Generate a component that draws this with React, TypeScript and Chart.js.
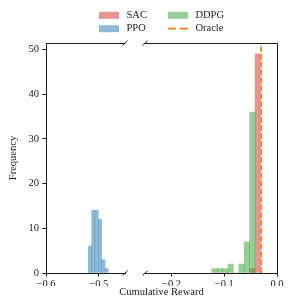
import React, { useEffect, useRef } from 'react';
import { Chart, registerables } from 'chart.js';

Chart.register(...registerables);

// ---------------- data ----------------
const SAC_BIN_CENTERS = [-0.0468, -0.0365];
const SAC_COUNTS = [1, 49];
const PPO_BIN_CENTERS = [-0.5166, -0.5103, -0.504, -0.4976, -0.4913, -0.485];
const PPO_COUNTS = [6, 14, 14, 12, 3, 1];
const DDPG_BIN_CENTERS = [-0.1186, -0.1083, -0.0981, -0.0878, -0.0776, -0.0673, -0.0571, -0.0468];
const DDPG_COUNTS = [1, 1, 1, 2, 0, 2, 7, 36];
const ORACLE_REWARD = -0.03;

const LEFT_X_RANGE = [-0.6, -0.45];
const RIGHT_X_RANGE = [-0.25, 0.0];
const LEFT_X_TICKS = [-0.6, -0.5];
const RIGHT_X_TICKS = [-0.2, -0.1, 0.0];
const Y_RANGE = [0, 51.45];
const Y_TICKS = [0, 10, 20, 30, 40, 50];

const LEGEND_COLUMNS = [['SAC', 'PPO'], ['DDPG', 'Oracle']];
const X_TITLE = 'Cumulative Reward';
const Y_TITLE = 'Frequency';

// ---------------- styles ----------------
const FONT = "'Liberation Serif', 'Times New Roman', serif";
const INK = '#1a1a1a';
const COLORS: Record<string, string> = {
  SAC: 'rgba(214,39,40,0.5)',
  PPO: 'rgba(31,119,180,0.5)',
  DDPG: 'rgba(44,160,44,0.5)',
  Oracle: '#ff7f0e',
};
const GAP_PX = 20;

const fmtTick = (v: number) => {
  const n = Math.abs(v) < 1e-9 ? 0 : v;
  return n.toFixed(1).replace('-', '\u2212');
};

const pts = (xs: number[], ys: number[]) => xs.map((x, i) => ({ x, y: ys[i] }));

// Split the chart area between the two x scales (broken axis)
const brokenAxis = {
  id: 'brokenAxis',
  afterLayout(chart: any) {
    const a = chart.chartArea;
    const xL = chart.scales.xL;
    const xR = chart.scales.xR;
    const spanL = LEFT_X_RANGE[1] - LEFT_X_RANGE[0];
    const spanR = RIGHT_X_RANGE[1] - RIGHT_X_RANGE[0];
    const k = (a.right - a.left - GAP_PX) / (spanL + spanR);
    xL.left = a.left;
    xL.right = a.left + spanL * k;
    xL.width = xL.right - xL.left;
    xR.right = a.right;
    xR.left = a.right - spanR * k;
    xR.width = xR.right - xR.left;
    xR.top = xL.top;
    xR.bottom = xL.bottom;
    xR.height = xL.height;
    xL.configure();
    xR.configure();
  },
};

// Top / right spines and break marks
const frame = {
  id: 'frame',
  afterDraw(chart: any) {
    const { ctx, chartArea: a } = chart;
    const xL = chart.scales.xL;
    const xR = chart.scales.xR;
    const al = (v: number) => Math.floor(v) + 0.5;
    ctx.save();
    ctx.strokeStyle = INK;
    ctx.lineWidth = 1;
    ctx.beginPath();
    const top = al(a.top);
    ctx.moveTo(a.left, top);
    ctx.lineTo(xL.right, top);
    ctx.moveTo(xR.left, top);
    ctx.lineTo(a.right + 0.5, top);
    ctx.moveTo(al(a.right), a.top);
    ctx.lineTo(al(a.right), a.bottom + 1);
    ctx.stroke();
    ctx.beginPath();
    for (const x of [xL.right, xR.left]) {
      for (const y of [a.top, a.bottom]) {
        ctx.moveTo(x - 2.5, y + 2.2);
        ctx.lineTo(x + 2.5, y - 2.2);
      }
    }
    ctx.stroke();
    ctx.restore();
  },
};

// Two-column legend above the axes
const splitLegend = {
  id: 'splitLegend',
  afterDraw(chart: any) {
    const { ctx, chartArea: a } = chart;
    const ds = chart.data.datasets;
    const find = (label: string) => ds.find((d: any) => d.label === label);
    ctx.save();
    ctx.font = `10.5px ${FONT}`;
    const handle = 20;
    const pad = 7.5;
    const colGap = 21;
    const colW = LEGEND_COLUMNS.map(
      (col) => handle + pad + Math.max(...col.map((l) => ctx.measureText(l).width))
    );
    const total = colW.reduce((s, w) => s + w, 0) + colGap * (colW.length - 1);
    let x = (a.left + a.right) / 2 - total / 2;
    const rowY = [a.top - 27.7, a.top - 14.3];
    LEGEND_COLUMNS.forEach((col, ci) => {
      col.forEach((label, ri) => {
        const d = find(label);
        const y = rowY[ri];
        if (d.type === 'line') {
          ctx.strokeStyle = d.borderColor;
          ctx.lineWidth = 1.8;
          ctx.setLineDash([8.3, 3.4]);
          ctx.beginPath();
          ctx.moveTo(x, y);
          ctx.lineTo(x + handle, y);
          ctx.stroke();
          ctx.setLineDash([]);
        } else {
          ctx.fillStyle = d.backgroundColor;
          ctx.fillRect(x, y - 3.5, handle, 7);
        }
        ctx.fillStyle = INK;
        ctx.textBaseline = 'middle';
        ctx.textAlign = 'left';
        ctx.fillText(label, x + handle + pad, y);
      });
      x += colW[ci] + colGap;
    });
    ctx.restore();
  },
};

const tickFont = { size: 10.5, family: FONT };
const gridOpts = {
  offset: false,
  drawOnChartArea: false,
  drawTicks: true,
  tickLength: 3.5,
  tickColor: INK,
  tickWidth: 1,
};
const borderOpts = { display: true, color: INK, width: 1, z: 1 };

const barCommon = {
  type: 'bar' as const,
  grouped: false,
  barPercentage: 1,
  categoryPercentage: 1,
  borderWidth: 0,
  yAxisID: 'y',
};

export default function App() {
  const ref = useRef<HTMLCanvasElement>(null);

  useEffect(() => {
    const canvas = ref.current;
    if (!canvas) return;
    const chart = new Chart(canvas, {
      type: 'bar',
      data: {
        datasets: [
          {
            ...barCommon,
            label: 'SAC',
            data: pts(SAC_BIN_CENTERS, SAC_COUNTS),
            xAxisID: 'xR',
            backgroundColor: COLORS.SAC,
            order: 4,
          },
          {
            ...barCommon,
            label: 'PPO',
            data: pts(PPO_BIN_CENTERS, PPO_COUNTS),
            xAxisID: 'xL',
            backgroundColor: COLORS.PPO,
            order: 3,
          },
          {
            ...barCommon,
            label: 'DDPG',
            data: pts(DDPG_BIN_CENTERS, DDPG_COUNTS),
            xAxisID: 'xR',
            backgroundColor: COLORS.DDPG,
            order: 2,
          },
          {
            type: 'line',
            label: 'Oracle',
            data: [
              { x: ORACLE_REWARD, y: Y_RANGE[0] },
              { x: ORACLE_REWARD, y: Y_RANGE[1] },
            ],
            xAxisID: 'xR',
            yAxisID: 'y',
            borderColor: COLORS.Oracle,
            backgroundColor: COLORS.Oracle,
            borderWidth: 1.8,
            borderDash: [5.5, 2.4],
            pointRadius: 0,
            fill: false,
            order: 1,
          },
        ] as any,
      },
      options: {
        animation: false,
        responsive: false,
        events: [],
        layout: { padding: { top: 43, right: 14, left: 0, bottom: 6.4 } },
        scales: {
          xL: {
            type: 'linear',
            position: 'bottom',
            min: LEFT_X_RANGE[0],
            max: LEFT_X_RANGE[1],
            offset: false,
            grid: gridOpts,
            border: borderOpts,
            ticks: {
              autoSkip: false,
              maxRotation: 0,
              padding: 1.5,
              color: INK,
              font: tickFont,
              callback: (v: any) => fmtTick(Number(v)),
            },
            afterBuildTicks: (s: any) => {
              s.ticks = LEFT_X_TICKS.map((v) => ({ value: v }));
            },
            afterFit: (s: any) => {
              s.height = 13;
            },
          },
          xR: {
            type: 'linear',
            position: 'bottom',
            min: RIGHT_X_RANGE[0],
            max: RIGHT_X_RANGE[1],
            offset: false,
            grid: gridOpts,
            border: borderOpts,
            ticks: {
              autoSkip: false,
              maxRotation: 0,
              padding: 1.5,
              color: INK,
              font: tickFont,
              callback: (v: any) => fmtTick(Number(v)),
            },
            afterBuildTicks: (s: any) => {
              s.ticks = RIGHT_X_TICKS.map((v) => ({ value: v }));
            },
            afterFit: (s: any) => {
              s.height = 0;
            },
          },
          y: {
            type: 'linear',
            position: 'left',
            min: Y_RANGE[0],
            max: Y_RANGE[1],
            grid: gridOpts,
            border: borderOpts,
            ticks: {
              padding: 3.5,
              color: INK,
              font: tickFont,
              callback: (v: any) => String(v),
            },
            title: {
              display: true,
              text: Y_TITLE,
              color: INK,
              font: { size: 10.5, family: FONT },
              padding: { top: 6.7, bottom: 0 },
            },
            afterBuildTicks: (s: any) => {
              s.ticks = Y_TICKS.map((v) => ({ value: v }));
            },
            afterFit: (s: any) => {
              s.width = 46;
            },
          },
        } as any,
        plugins: {
          legend: { display: false },
          tooltip: { enabled: false },
          title: {
            display: true,
            position: 'bottom',
            fullSize: false,
            text: X_TITLE,
            color: INK,
            font: { size: 10.5, family: FONT, weight: 'normal' },
            padding: { top: 0, bottom: 0 },
          },
        } as any,
      },
      plugins: [brokenAxis, frame, splitLegend],
    });
    return () => chart.destroy();
  }, []);

  return (
    <div style={{ position: 'absolute', left: 0, top: 0, width: 291, height: 305 }}>
      <canvas ref={ref} width={291} height={305} style={{ display: 'block', width: 291, height: 305 }} />
    </div>
  );
}
